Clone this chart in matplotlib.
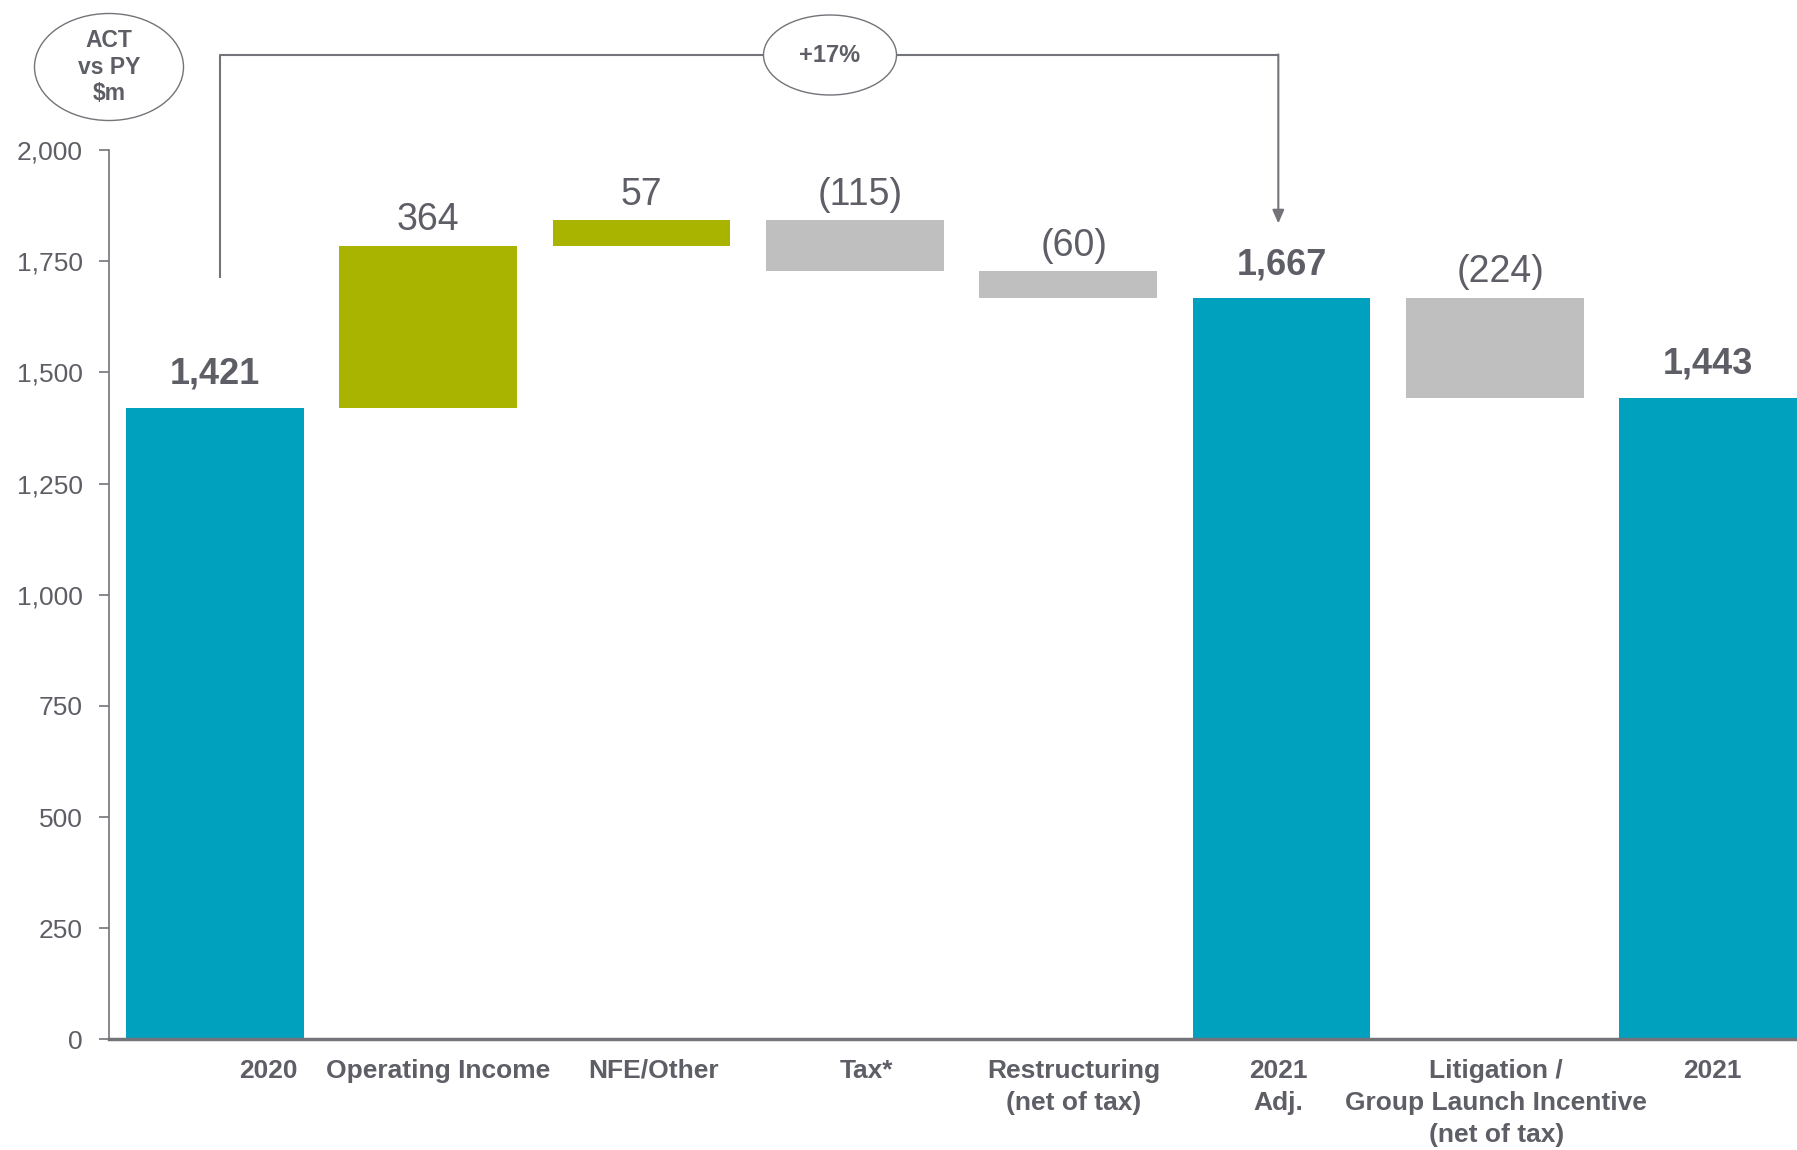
import matplotlib.pyplot as plt
from matplotlib.patches import Ellipse
from matplotlib.transforms import blended_transform_factory

plt.rcParams['font.family'] = ['Liberation Sans', 'DejaVu Sans']

# bridge data, $m
categories = ['2020', 'Operating Income', 'NFE/Other', 'Tax*', 'Restructuring\n(net of tax)',
              '2021\nAdj.', 'Litigation /\nGroup Launch Incentive\n(net of tax)', '2021']
values = [1421, 364, 57, -115, -60, 1667, -224, 1443]
is_total = [True, False, False, False, False, True, False, True]
value_labels = ['1,421', '364', '57', '(115)', '(60)', '1,667', '(224)', '1,443']
label_x = [0.25, 1.045, 2.054, 3.053, 4.025, 4.987, 6.007, 7.022]
yticks = [0, 250, 500, 750, 1000, 1250, 1500, 1750, 2000]
growth_label = '+17%'

TEAL = '#00A1BF'
OLIVE = '#A9B400'
GREY_BAR = '#BFBFBF'
TXT = '#5E5F66'
LINE = '#737479'

fig = plt.figure(figsize=(17.97, 11.5), dpi=100)
ax = fig.add_axes([0.0606, 0.0961, 0.9394, 0.7734])

# work out floating bottoms for the waterfall
bottoms, heights, colors, tops = [], [], [], []
running = 0
for v, tot in zip(values, is_total):
    if tot:
        bottoms.append(0)
        heights.append(v)
        colors.append(TEAL)
        running = v
    else:
        start = running
        running = running + v
        bottoms.append(min(start, running))
        heights.append(abs(v))
        colors.append(OLIVE if v > 0 else GREY_BAR)
    tops.append(bottoms[-1] + heights[-1])

x = list(range(len(values)))
ax.bar(x, heights, bottom=bottoms, width=0.832, color=colors, zorder=2)

# negative labels sit a touch right of the bar centre
for xi, top, lab, tot, v in zip(x, tops, value_labels, is_total, values):
    dx = 4 if (v < 0 and not tot) else 0
    ax.annotate(lab, (xi, top), xytext=(dx, 24 if tot else 18.5), textcoords='offset points',
                ha='center', va='center', fontsize=26 if tot else 27,
                fontweight='bold' if tot else 'normal', color=TXT)

ax.set_xlim(-0.497, 7.4165)
ax.set_ylim(0, 2000)
ax.set_yticks(yticks)
ax.set_yticklabels([f'{t:,}' for t in yticks], fontsize=19, color=TXT)
ax.tick_params(axis='y', length=7, width=1.2, color=LINE, pad=12)
ax.set_xticks([])

for s in ['top', 'right']:
    ax.spines[s].set_visible(False)
ax.spines['left'].set_color(LINE)
ax.spines['left'].set_linewidth(1.2)
ax.spines['bottom'].set_color(LINE)
ax.spines['bottom'].set_linewidth(2.5)

# category names under the axis
trans = blended_transform_factory(ax.transData, ax.transAxes)
for lx, cat in zip(label_x, categories):
    ax.text(lx, -0.0215, cat, transform=trans, ha='center', va='top', fontsize=19,
            fontweight='bold', color=TXT, linespacing=1.42)

# growth bracket from 2020 to 2021 Adj.
bracket_y = 2214
ax.plot([0.024, 0.024, 4.985], [1714, bracket_y, bracket_y], color=LINE, lw=1.5,
        clip_on=False, zorder=3)
ax.annotate('', xy=(4.985, 1835), xytext=(4.985, bracket_y + 1),
            arrowprops=dict(arrowstyle='-|>,head_width=0.35,head_length=0.8',
                            color=LINE, lw=1.5, shrinkA=0, shrinkB=0),
            annotation_clip=False, zorder=3)

ell = Ellipse((830 / 1797, 1 - 55 / 1150), 133 / 1797, 80 / 1150, transform=fig.transFigure,
              facecolor='white', edgecolor=LINE, lw=1.0, zorder=5)
fig.patches.append(ell)
fig.text(830 / 1797, 1 - 55 / 1150, growth_label, ha='center', va='center', fontsize=17,
         fontweight='bold', color=TXT, zorder=6)

# unit badge top left
badge = Ellipse((109 / 1797, 1 - 67 / 1150), 149 / 1797, 107 / 1150, transform=fig.transFigure,
                facecolor='white', edgecolor=LINE, lw=1.0)
fig.patches.append(badge)
fig.text(109 / 1797, 1 - 67 / 1150, 'ACT\nvs PY\n$m', ha='center', va='center', fontsize=16.5,
         fontweight='bold', color=TXT, linespacing=1.2)

fig.savefig('out.png', dpi=100)
